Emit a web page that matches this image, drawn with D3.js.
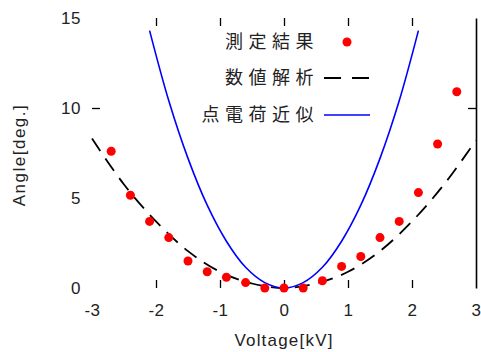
<!DOCTYPE html>
<html>
<head>
<meta charset="utf-8">
<script src="https://cdn.jsdelivr.net/npm/d3@7"></script>
<style>
    body { margin: 0; background: #fff; }
    .chart { width: 481px; height: 352px; }
    text { font-family: "Liberation Sans", Arial, sans-serif; fill: #222; }
    .legend text { font-family: "Noto Sans CJK JP", sans-serif; }
</style>
</head>
<body>
<div class="chart"></div>
<script>
//data
let measuredX = [-2.7, -2.4, -2.1, -1.8, -1.5, -1.2, -0.9, -0.6, -0.3, 0, 0.3, 0.6, 0.9, 1.2, 1.5, 1.8, 2.1, 2.4, 2.7];
let measuredY = [7.6, 5.15, 3.7, 2.8, 1.5, 0.9, 0.6, 0.3, 0.0, 0.0, 0.0, 0.4, 1.2, 1.75, 2.8, 3.7, 5.3, 8.0, 10.9];

let numericX = [-3, -2.5, -2, -1.5, -1, -0.5, 0, 0.5, 1, 1.5, 2, 2.5, 3];
let numericY = [8.3, 5.75, 3.7, 2.05, 0.9, 0.25, 0, 0.25, 0.9, 2.05, 3.7, 5.75, 8.2];

let pointChargeX = [-2.1, -1.8, -1.5, -1.2, -0.9, -0.6, -0.3, 0, 0.3, 0.6, 0.9, 1.2, 1.5, 1.8, 2.1];
let pointChargeY = [14.3, 10.4, 7.2, 4.6, 2.6, 1.15, 0.3, 0, 0.3, 1.15, 2.6, 4.6, 7.2, 10.4, 14.3];

let xTickLabels = [-3, -2, -1, 0, 1, 2, 3];
let xTickMarks = [-2, -1, 0, 1, 2];
let yTickLabels = [0, 5, 10, 15];
let yTickMarks = [10];

let legendNames = ["測定結果", "数値解析", "点電荷近似"];

let chart = {};

function zip(xs, ys) {
    return xs.map((x, i) => ({ x: x, y: ys[i] }));
}

function init() {
    chart.measured = zip(measuredX, measuredY);
    chart.numeric = zip(numericX, numericY);
    chart.pointCharge = zip(pointChargeX, pointChargeY);

    setDimensions();
    setScales();
    appendElements();
}

function setDimensions() {
    chart.margin = { top: 18, right: 5, bottom: 64, left: 92 };
    chart.width = 481 - chart.margin.left - chart.margin.right;
    chart.height = 352 - chart.margin.top - chart.margin.bottom;
}

function setScales() {
    chart.xScale = d3.scaleLinear()
        .range([0, chart.width])
        .domain([-3, 3]);

    chart.yScale = d3.scaleLinear()
        .range([chart.height, 0])
        .domain([0, 15]);

    chart.line = d3.line()
        .x(d => chart.xScale(d.x))
        .y(d => chart.yScale(d.y))
        .curve(d3.curveCatmullRom);
}

function appendElements() {
    chart.svg = d3.select(".chart").append("svg")
        .attr("width", 481)
        .attr("height", 352);

    chart.plot = chart.svg.append("g")
        .attr("transform", `translate(${chart.margin.left},${chart.margin.top})`);

    //tick labels (no marks), plain hyphen for minus like the original
    chart.plot.append("g")
        .attr("transform", `translate(0,${chart.height})`)
        .call(d3.axisBottom(chart.xScale).tickValues(xTickLabels).tickSize(0).tickPadding(16)
            .tickFormat(d => String(d)))
        .call(g => g.select(".domain").remove());

    chart.plot.append("g")
        .call(d3.axisLeft(chart.yScale).tickValues(yTickLabels).tickSize(0).tickPadding(11)
            .tickFormat(d => String(d)))
        .call(g => g.select(".domain").remove());

    //tick marks, pointing inward
    chart.plot.append("g")
        .attr("transform", `translate(0,${chart.height})`)
        .call(d3.axisBottom(chart.xScale).tickValues(xTickMarks).tickSize(-8).tickFormat(""))
        .call(g => g.select(".domain").remove());

    chart.plot.append("g")
        .call(d3.axisTop(chart.xScale).tickValues(xTickMarks).tickSize(-8).tickFormat(""))
        .call(g => g.select(".domain").remove());

    chart.plot.append("g")
        .call(d3.axisLeft(chart.yScale).tickValues(yTickMarks).tickSize(-8).tickFormat(""))
        .call(g => g.select(".domain").remove());

    chart.plot.append("g")
        .attr("transform", `translate(${chart.width},0)`)
        .call(d3.axisRight(chart.yScale).tickValues(yTickMarks).tickSize(-8).tickFormat("").tickSizeOuter(0))
        .call(g => g.select(".domain").attr("stroke-width", 1.6));

    chart.plot.selectAll(".tick line").attr("stroke", "#000").attr("stroke-width", 1.3);
    chart.plot.selectAll(".tick text")
        .style("font-size", "17px")
        .style("letter-spacing", "0.5px")
        .attr("fill", "#222");

    //curves
    chart.plot.append("path")
        .datum(chart.numeric)
        .attr("d", chart.line)
        .attr("fill", "none")
        .attr("stroke", "#000")
        .attr("stroke-width", 1.8)
        .attr("stroke-dasharray", "15,9");

    chart.plot.append("path")
        .datum(chart.pointCharge)
        .attr("d", chart.line)
        .attr("fill", "none")
        .attr("stroke", "#0000ff")
        .attr("stroke-width", 1.6);

    chart.plot.selectAll(".dot")
        .data(chart.measured)
        .enter()
        .append("circle")
        .attr("class", "dot")
        .attr("cx", d => chart.xScale(d.x))
        .attr("cy", d => chart.yScale(d.y))
        .attr("r", 4.5)
        .attr("fill", "#ff0000");

    //axis titles
    chart.svg.append("text")
        .attr("x", 284)
        .attr("y", 346)
        .attr("text-anchor", "middle")
        .style("font-size", "17px")
        .style("letter-spacing", "1.2px")
        .text("Voltage[kV]");

    chart.svg.append("text")
        .attr("transform", "translate(25,155) rotate(-90)")
        .attr("text-anchor", "middle")
        .style("font-size", "17px")
        .style("letter-spacing", "1.5px")
        .text("Angle[deg.]");

    //legend
    let legend = chart.svg.append("g").attr("class", "legend");
    let rowY = [42, 78, 115];

    legend.selectAll("text")
        .data(legendNames)
        .enter()
        .append("text")
        .attr("x", 319)
        .attr("y", (d, i) => rowY[i])
        .attr("dy", "0.36em")
        .attr("text-anchor", "end")
        .style("font-size", "18px")
        .style("letter-spacing", "5.5px")
        .text(d => d);

    legend.append("circle")
        .attr("cx", 347)
        .attr("cy", rowY[0])
        .attr("r", 4.5)
        .attr("fill", "#ff0000");

    legend.append("line")
        .attr("x1", 324).attr("x2", 370)
        .attr("y1", rowY[1]).attr("y2", rowY[1])
        .attr("stroke", "#000")
        .attr("stroke-width", 1.8)
        .attr("stroke-dasharray", "17,11");

    legend.append("line")
        .attr("x1", 324).attr("x2", 370)
        .attr("y1", rowY[2]).attr("y2", rowY[2])
        .attr("stroke", "#0000ff")
        .attr("stroke-width", 1.6);
}

init();
</script>
</body>
</html>
